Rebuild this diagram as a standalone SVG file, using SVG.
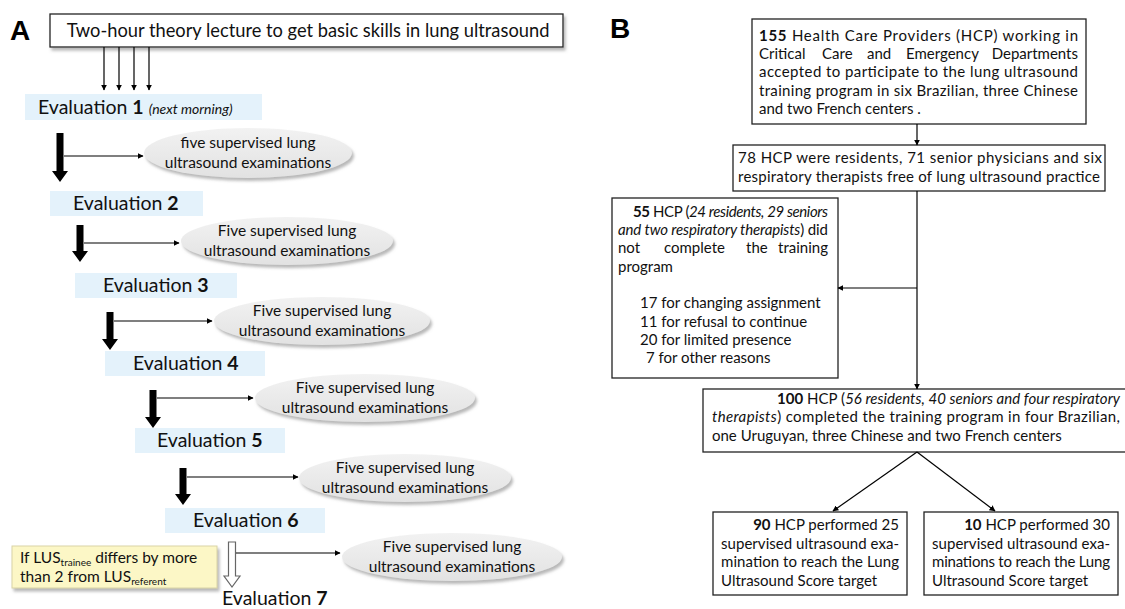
<svg xmlns="http://www.w3.org/2000/svg" width="1125" height="609" viewBox="0 0 1125 609">
<style>
.lab{font-family:"Liberation Sans",Arial,sans-serif;font-weight:bold;font-size:28px;fill:#000}
.t{font-family:Lato,"Liberation Sans",sans-serif;fill:#111}
.ev{font-size:19.5px}
.el{font-size:15.5px;text-anchor:middle}
.b{font-size:15px}
.box{fill:#fff;stroke:#222;stroke-width:1.3}
.evbg{fill:#e4f2fb}
.ell{fill:url(#eg);filter:url(#sh)}
.thin{stroke:#000;stroke-width:1.2;fill:none;marker-end:url(#ah)}
.thick{fill:#000}
.bold{font-weight:bold}
.it{font-style:italic}
</style>
<defs>
<marker id="ah" viewBox="0 0 10 10" refX="9" refY="5" markerWidth="6" markerHeight="6" orient="auto" markerUnits="userSpaceOnUse"><path d="M0,0 L10,5 L0,10 z" fill="#000"/></marker>
<linearGradient id="eg" x1="0" y1="0" x2="0" y2="1"><stop offset="0" stop-color="#f2f2f2"/><stop offset="1" stop-color="#e2e2e2"/></linearGradient>
<filter id="sh" x="-10%" y="-20%" width="125%" height="150%"><feDropShadow dx="2" dy="3" stdDeviation="1.5" flood-color="#888" flood-opacity="0.6"/></filter>
</defs>

<g id="panelA">
<text class="lab" x="10" y="40">A</text>
<g id="lecture">
<rect class="box" x="50" y="14" width="513" height="33" style="filter:url(#sh)"/>
<text class="t" x="308" y="37" font-size="18.3" text-anchor="middle">Two-hour theory lecture to get basic skills in lung ultrasound</text>
</g>
<g id="eval1"><rect class="evbg" x="25" y="94" width="237" height="26"/><text class="t ev" x="38" y="114">Evaluation <tspan class="bold">1</tspan> <tspan class="it" font-size="14">(next morning)</tspan></text></g>
<g id="eval2"><rect class="evbg" x="50" y="191" width="153" height="25"/><text class="t ev" x="73" y="210">Evaluation <tspan class="bold">2</tspan></text></g>
<g id="eval3"><rect class="evbg" x="75" y="273" width="162" height="25"/><text class="t ev" x="103" y="292">Evaluation <tspan class="bold">3</tspan></text></g>
<g id="eval4"><rect class="evbg" x="105" y="351" width="160" height="25"/><text class="t ev" x="133" y="370">Evaluation <tspan class="bold">4</tspan></text></g>
<g id="eval5"><rect class="evbg" x="135" y="428" width="150" height="25"/><text class="t ev" x="157" y="447">Evaluation <tspan class="bold">5</tspan></text></g>
<g id="eval6"><rect class="evbg" x="165" y="508" width="160" height="25"/><text class="t ev" x="193" y="527">Evaluation <tspan class="bold">6</tspan></text></g>
<g id="eval7"><text class="t ev" x="222" y="605">Evaluation <tspan class="bold">7</tspan></text></g>

<g id="exam1"><ellipse class="ell" cx="248" cy="153" rx="104" ry="25"/><text class="t el" x="248" y="148">five supervised lung</text><text class="t el" x="248" y="168">ultrasound examinations</text></g>
<g id="exam2"><ellipse class="ell" cx="287" cy="241" rx="106" ry="24"/><text class="t el" x="287" y="236">Five supervised lung</text><text class="t el" x="287" y="256">ultrasound examinations</text></g>
<g id="exam3"><ellipse class="ell" cx="322" cy="321" rx="108" ry="24"/><text class="t el" x="322" y="316">Five supervised lung</text><text class="t el" x="322" y="336">ultrasound examinations</text></g>
<g id="exam4"><ellipse class="ell" cx="365" cy="398" rx="110" ry="24"/><text class="t el" x="365" y="393">Five supervised lung</text><text class="t el" x="365" y="413">ultrasound examinations</text></g>
<g id="exam5"><ellipse class="ell" cx="405" cy="478" rx="106" ry="24"/><text class="t el" x="405" y="473">Five supervised lung</text><text class="t el" x="405" y="493">ultrasound examinations</text></g>
<g id="exam6"><ellipse class="ell" cx="452" cy="557" rx="110" ry="24"/><text class="t el" x="452" y="552">Five supervised lung</text><text class="t el" x="452" y="572">ultrasound examinations</text></g>

<g id="note">
<rect x="12" y="546" width="205" height="42" fill="#fcf7c6" stroke="#d9d3a6" stroke-width="1" style="filter:url(#sh)"/>
<text class="t" x="20" y="563" font-size="15.5">If LUS<tspan font-size="10" dy="3">trainee</tspan><tspan dy="-3"> differs by more</tspan></text>
<text class="t" x="20" y="582" font-size="15.5">than 2 from LUS<tspan font-size="10" dy="3">referent</tspan></text>
</g>

<g id="connectorsA">
<line class="thin" x1="104" y1="47" x2="104" y2="90"/>
<line class="thin" x1="119" y1="47" x2="119" y2="90"/>
<line class="thin" x1="134" y1="47" x2="134" y2="90"/>
<line class="thin" x1="149" y1="47" x2="149" y2="90"/>
<path class="thick" d="M56.5,133 H63.5 V171 H68 L60,182 L52,171 H56.5 Z"/>
<path class="thick" d="M76.5,225 H83.5 V251 H88 L80,262 L72,251 H76.5 Z"/>
<path class="thick" d="M106.5,312 H113.5 V339 H118 L110,350 L102,339 H106.5 Z"/>
<path class="thick" d="M149.5,390 H156.5 V417 H161 L153,428 L145,417 H149.5 Z"/>
<path class="thick" d="M179.5,468 H186.5 V494 H191 L183,505 L175,494 H179.5 Z"/>
<path d="M228.5,542 H235.5 V576 H240 L232,587 L224,576 H228.5 Z" fill="#fff" stroke="#666" stroke-width="1.2"/>
<line class="thin" x1="64" y1="156" x2="143" y2="156"/>
<line class="thin" x1="84" y1="243" x2="179" y2="243"/>
<line class="thin" x1="114" y1="321" x2="212" y2="321"/>
<line class="thin" x1="157" y1="398" x2="253" y2="398"/>
<line class="thin" x1="187" y1="477" x2="298" y2="477"/>
<line class="thin" x1="236" y1="553" x2="340" y2="553"/>
</g>
</g>

<g id="panelB">
<text class="lab" x="610" y="38">B</text>
<g id="b1">
<rect class="box" x="752" y="19" width="334" height="105"/>
<text class="t b" x="759" y="41" textLength="319" lengthAdjust="spacing"><tspan class="bold">155</tspan> Health Care Providers (HCP) working in</text>
<text class="t b" y="59"><tspan x="759">Critical</tspan><tspan x="822">Care</tspan><tspan x="867">and</tspan><tspan x="906">Emergency</tspan></text>
<text class="t b" x="1078" y="59" text-anchor="end">Departments</text>
<text class="t b" x="759" y="77" textLength="319" lengthAdjust="spacing">accepted to participate to the lung ultrasound</text>
<text class="t b" x="759" y="96" textLength="319" lengthAdjust="spacing">training program in six Brazilian, three Chinese</text>
<text class="t b" x="759" y="114">and two French centers .</text>
</g>
<g id="b2">
<rect class="box" x="733" y="145" width="372" height="46"/>
<text class="t b" x="738" y="163" textLength="364" lengthAdjust="spacing">78 HCP were residents, 71 senior physicians and six</text>
<text class="t b" x="738" y="182" textLength="362" lengthAdjust="spacing">respiratory therapists free of lung ultrasound practice</text>
</g>
<g id="b3">
<rect class="box" x="612" y="198" width="226" height="180"/>
<text class="t b" x="633" y="217" textLength="195" lengthAdjust="spacing"><tspan class="bold">55</tspan> HCP (<tspan class="it">24 residents, 29 seniors</tspan></text>
<text class="t b" x="618" y="235" textLength="210" lengthAdjust="spacing"><tspan class="it">and two respiratory therapists</tspan>) did</text>
<text class="t b" y="253"><tspan x="618">not</tspan><tspan x="664">complete</tspan><tspan x="746">the</tspan></text>
<text class="t b" x="828" y="253" text-anchor="end">training</text>
<text class="t b" x="618" y="272">program</text>
<text class="t b" x="640" y="308">17 for changing assignment</text>
<text class="t b" x="640" y="327">11 for refusal to continue</text>
<text class="t b" x="640" y="345">20 for limited presence</text>
<text class="t b" x="646" y="363">7 for other reasons</text>
</g>
<g id="b4">
<rect class="box" x="703" y="389" width="430" height="63"/>
<text class="t b" x="777" y="404" textLength="343" lengthAdjust="spacing"><tspan class="bold">100</tspan> HCP (<tspan class="it">56 residents, 40 seniors and four respiratory</tspan></text>
<text class="t b" x="712" y="422" textLength="408" lengthAdjust="spacing"><tspan class="it">therapists</tspan>) completed the training program in four Brazilian,</text>
<text class="t b" x="712" y="441">one Uruguyan, three Chinese and two French centers</text>
</g>
<g id="b5">
<rect class="box" x="713" y="512" width="194" height="83"/>
<text class="t b" x="899" y="530" text-anchor="end"><tspan class="bold">90</tspan> HCP performed 25</text>
<text class="t b" x="721" y="549" textLength="178" lengthAdjust="spacing">supervised ultrasound exa-</text>
<text class="t b" x="721" y="567" textLength="178" lengthAdjust="spacing">mination to reach the Lung</text>
<text class="t b" x="721" y="586">Ultrasound Score target</text>
</g>
<g id="b6">
<rect class="box" x="924" y="512" width="194" height="83"/>
<text class="t b" x="1110" y="530" text-anchor="end"><tspan class="bold">10</tspan> HCP performed 30</text>
<text class="t b" x="932" y="549" textLength="178" lengthAdjust="spacing">supervised ultrasound exa-</text>
<text class="t b" x="932" y="567" textLength="178" lengthAdjust="spacing">minations to reach the Lung</text>
<text class="t b" x="932" y="586">Ultrasound Score target</text>
</g>
<g id="connectorsB">
<line class="thin" x1="917" y1="124" x2="917" y2="145"/>
<line class="thin" x1="917" y1="191" x2="917" y2="389"/>
<line class="thin" x1="917" y1="288" x2="838" y2="288"/>
<line class="thin" x1="917" y1="452" x2="833" y2="511"/>
<line class="thin" x1="917" y1="452" x2="995" y2="511"/>
</g>
</g>
</svg>
